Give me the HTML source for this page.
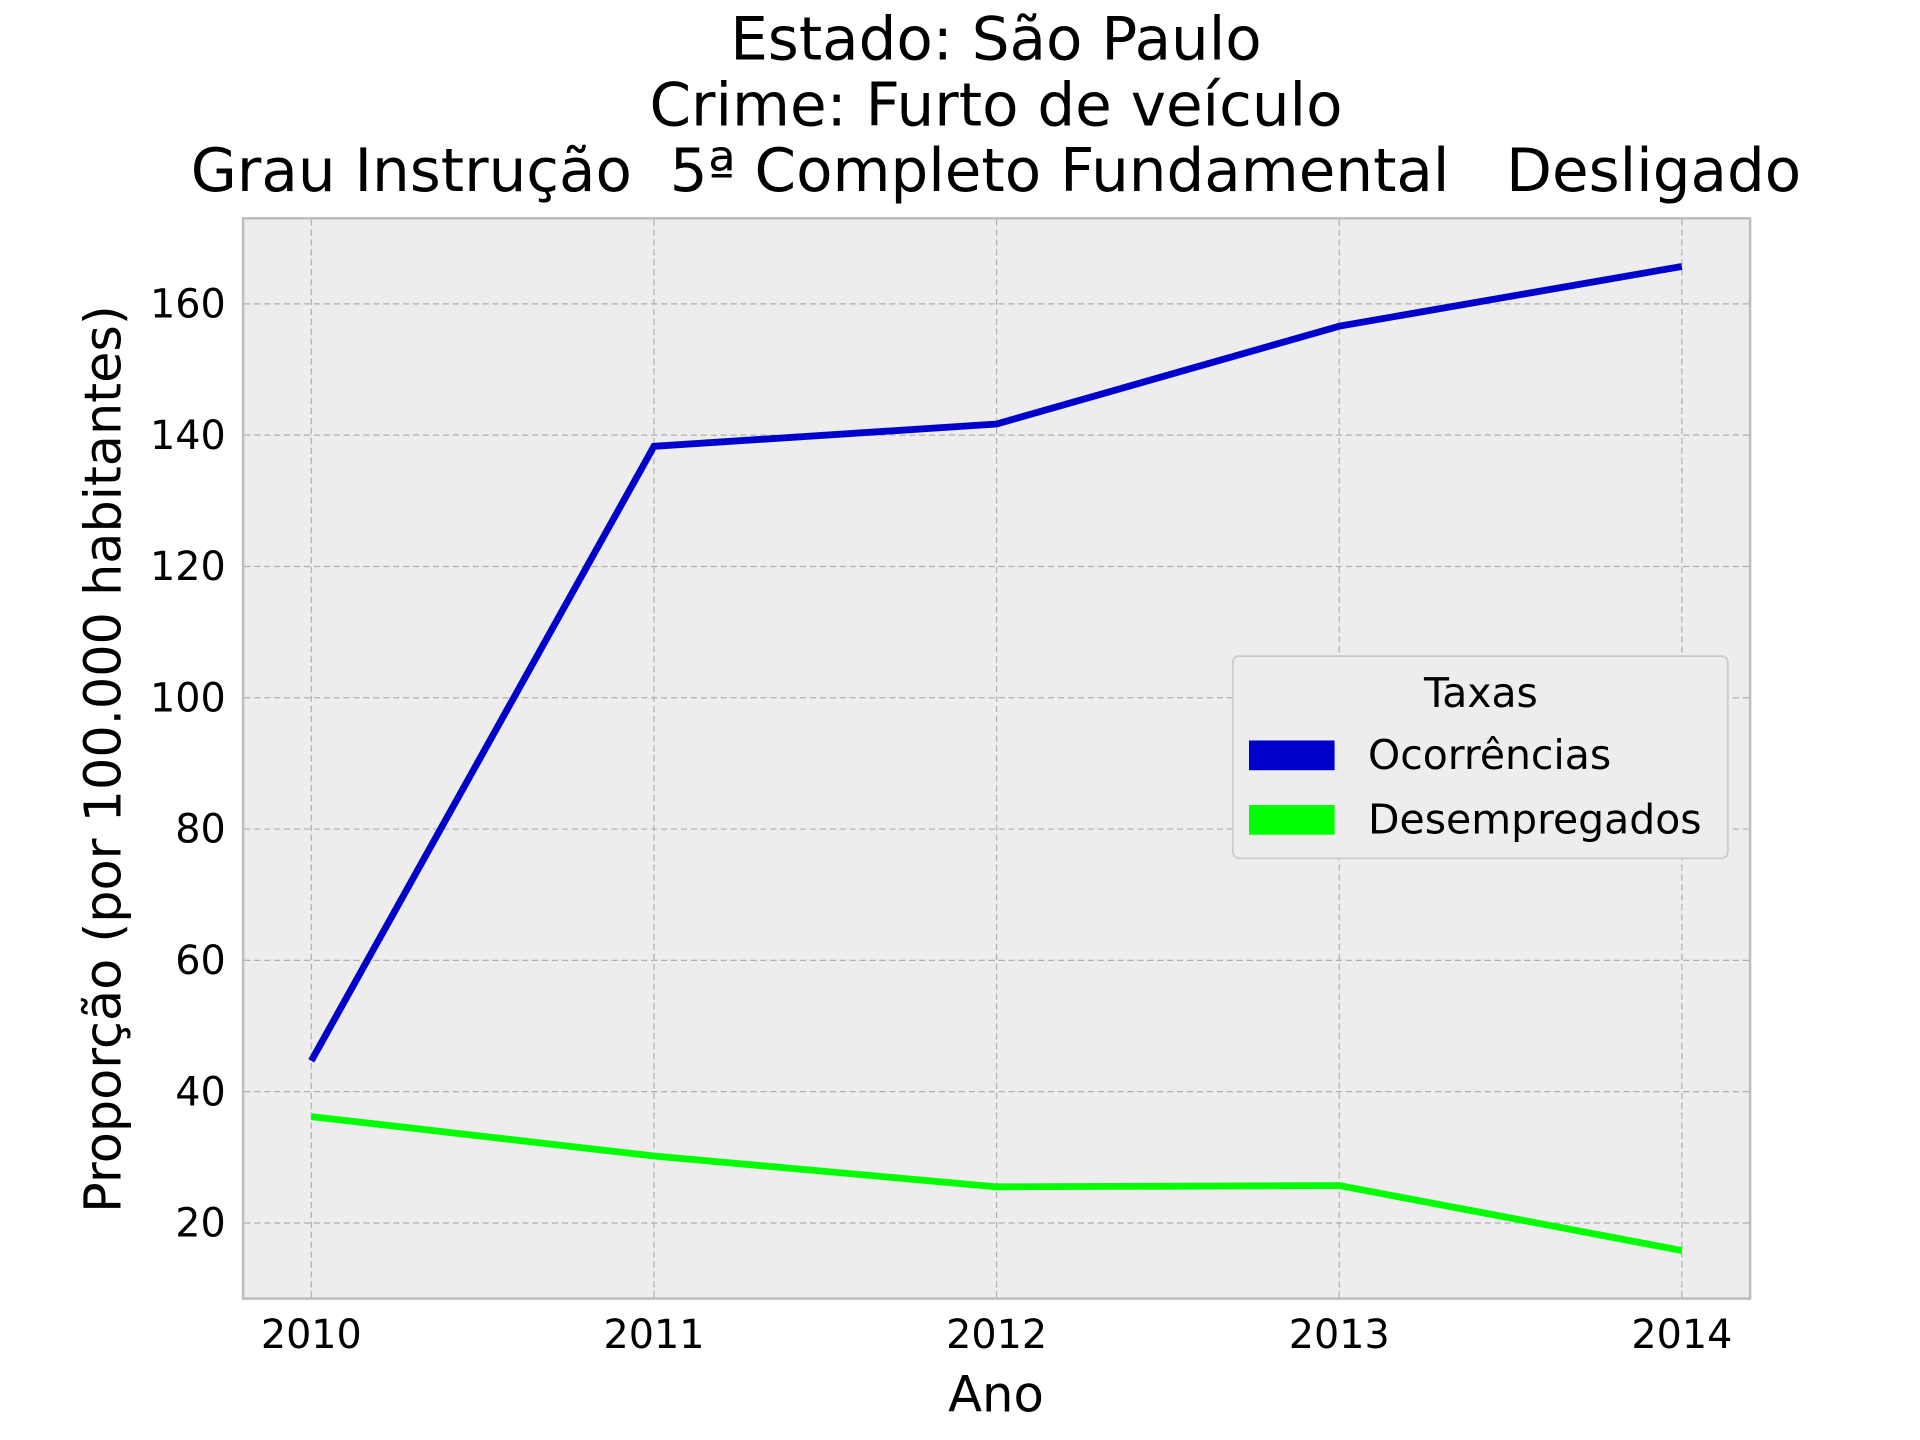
<!DOCTYPE html>
<html><head><meta charset="utf-8"><style>
html,body{margin:0;padding:0;background:#fff}
svg{display:block}
text{font-family:"DejaVu Sans","Liberation Sans",sans-serif;white-space:pre}
</style></head><body>
<svg id="chart" width="1920" height="1440" viewBox="0 0 1548 1161" xmlns="http://www.w3.org/2000/svg" xml:space="preserve">
<rect width="1548" height="1161" fill="#fff"/>
<g font-size="48" text-anchor="middle" fill="#000">
<text x="803" y="48">Estado: São Paulo</text>
<text x="803" y="101">Crime: Furto de veículo</text>
<text x="803" y="154">Grau Instrução  5ª Completo Fundamental   Desligado</text>
</g>
<rect x="196" y="176" width="1215" height="871" fill="#ededed" stroke="#bdbdbd" stroke-width="2"/>
<g id="grid"></g><g id="ticks"></g><g id="lines"></g>
<text x="803" y="1138" font-size="40" text-anchor="middle">Ano</text>
<text transform="translate(97,612) rotate(-90)" font-size="41" text-anchor="middle">Proporção (por 100.000 habitantes)</text>
<g>
<rect x="994" y="529" width="399" height="163" rx="5" fill="#ededed" stroke="#cccccc" stroke-width="1.5"/>
<text x="1194" y="570" font-size="33" text-anchor="middle">Taxas</text>
<rect x="1007" y="597" width="69" height="24" fill="#0000cc"/>
<text x="1103" y="620" font-size="33">Ocorrências</text>
<rect x="1007" y="649" width="69" height="24" fill="#00ff00"/>
<text x="1103" y="672" font-size="33">Desempregados</text>
</g>
</svg>
<script>
const years = [2010, 2011, 2012, 2013, 2014];
const ocorrencias = [44.7, 138.3, 141.7, 156.6, 165.7];
const desempregados = [36.2, 30.2, 25.5, 25.7, 15.8];
const yTicks = [20, 40, 60, 80, 100, 120, 140, 160];

const NS = 'http://www.w3.org/2000/svg';
function xs(v){ return 251 + (v - 2010) * (1356 - 251) / 4; }
function ys(v){ return 986 - (v - 20) * (986 - 245) / 140; }
function mk(tag, attrs, parent){ const e = document.createElementNS(NS, tag); for (const k in attrs) e.setAttribute(k, attrs[k]); parent.appendChild(e); return e; }
const grid = document.getElementById('grid'), ticks = document.getElementById('ticks'), lines = document.getElementById('lines');
years.forEach(y => {
  const g = mk('line', {x1: xs(y), x2: xs(y), y1: 177, y2: 1046, stroke: '#b0b0b0', 'stroke-width': 1, 'stroke-dasharray': '5,3'}, grid);
  
  
  const t = mk('text', {x: xs(y), y: 1087, 'font-size': 32, 'text-anchor': 'middle'}, ticks);
  t.textContent = y;
  
  
});
yTicks.forEach(v => {
  const g = mk('line', {x1: 197, x2: 1410, y1: ys(v), y2: ys(v), stroke: '#b0b0b0', 'stroke-width': 1, 'stroke-dasharray': '5,3'}, grid);
  
  
  const t = mk('text', {x: 182, y: ys(v) + 11, 'font-size': 32, 'text-anchor': 'end'}, ticks);
  t.textContent = v;
  
  
});
function series(vals, color, name){
  const p = mk('polyline', {points: vals.map((v,i) => xs(years[i]) + ',' + ys(v)).join(' '), fill: 'none', stroke: color, 'stroke-width': 5.5}, lines);
  
  
}
series(ocorrencias, '#0000cc', 'ocorrencias-line');
series(desempregados, '#00ff00', 'desempregados-line');
</script>
</body></html>
